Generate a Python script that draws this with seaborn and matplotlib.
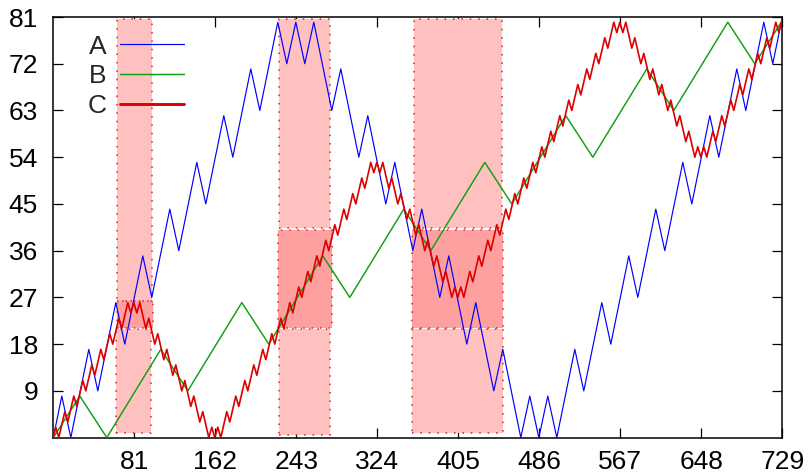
import matplotlib
matplotlib.use("Agg")
import matplotlib.pyplot as plt
import pandas as pd
import seaborn as sns
from matplotlib.patches import Rectangle
from matplotlib.lines import Line2D

# ---------------- data (turning points) ----------------
a_x = [0, 8.5, 17.5, 35.5, 44.5, 62.5, 71.5, 89.5, 98.5, 116.5, 125.5, 143.5, 152.5,
       170.5, 179.5, 197.5, 206.5, 224.5, 233.5, 242.5, 251.5, 260.5, 278.5, 287.5,
       305.5, 314.5, 332.5, 341.5, 359.5, 368.5, 386.5, 395.5, 413.5, 422.5, 440.5,
       449.5, 467.5, 476.5, 485.5, 494.5, 503.5, 521.5, 530.5, 548.5, 557.5, 575.5,
       584.5, 602.5, 611.5, 629.5, 638.5, 656.5, 665.5, 683.5, 692.5, 710.5, 719.5, 728]
a_y = [0, 8, 0, 17, 9, 26, 18, 35, 27, 44, 36, 53, 45, 62, 54, 71, 63, 80, 72, 80,
       72, 80, 63, 71, 54, 62, 45, 53, 36, 44, 27, 35, 18, 26, 9, 17, 0, 8, 0, 8, 0,
       17, 9, 26, 18, 35, 27, 44, 36, 53, 45, 62, 54, 71, 63, 80, 72, 80]

b_x = [0, 26.5, 53.5, 107.5, 134.5, 188.5, 215.5, 269.5, 296.5, 350.5, 377.5, 431.5,
       458.5, 512.5, 539.5, 593.5, 620.5, 674.5, 701.5, 728]
b_y = [0, 8, 0, 17, 9, 26, 18, 35, 27, 44, 36, 53, 45, 62, 54, 71, 63, 80, 72, 80]

c_x = [0,
       2.5, 5.5, 11.5, 14.5, 20.5, 23.5, 29.5, 32.5, 38.5, 41.5, 47.5, 50.5, 56.5, 59.5,
       65.5, 68.5, 74.5, 77.5,
       80.5,
       83.5, 86.5, 92.5, 95.5, 101.5, 104.5, 110.5, 113.5, 119.5, 122.5, 128.5, 131.5,
       137.5, 140.5, 146.5, 149.5, 155.5, 158.5,
       161.5,
       164.5, 167.5, 173.5, 176.5, 182.5, 185.5, 191.5, 194.5, 200.5, 203.5, 209.5, 212.5,
       218.5, 221.5, 227.5, 230.5, 236.5, 239.5, 245.5, 248.5, 254.5, 257.5, 263.5, 266.5,
       272.5, 275.5, 281.5, 284.5, 290.5, 293.5, 299.5, 302.5, 308.5, 311.5, 317.5, 320.5,
       323.5,
       326.5, 329.5, 335.5, 338.5, 344.5, 347.5, 353.5, 356.5, 362.5, 365.5, 371.5, 374.5,
       380.5, 383.5, 389.5, 392.5, 398.5, 401.5,
       404.5,
       407.5, 410.5, 416.5, 419.5, 425.5, 428.5, 434.5, 437.5, 443.5, 446.5, 452.5, 455.5,
       461.5, 464.5, 470.5, 473.5, 479.5, 482.5, 488.5, 491.5, 497.5, 500.5, 506.5, 509.5,
       515.5, 518.5, 524.5, 527.5, 533.5, 536.5, 542.5, 545.5, 551.5, 554.5, 560.5, 563.5,
       566.5,
       569.5, 572.5, 578.5, 581.5, 587.5, 590.5, 596.5, 599.5, 605.5, 608.5, 614.5, 617.5,
       623.5, 626.5, 632.5, 635.5, 641.5, 644.5,
       647.5,
       650.5, 653.5, 659.5, 662.5, 668.5, 671.5, 677.5, 680.5, 686.5, 689.5, 695.5, 698.5,
       704.5, 707.5, 713.5, 716.5, 722.5, 725.5,
       728]
c_y = [0,
       2, 0, 5, 3, 8, 6, 11, 9, 14, 12, 17, 15, 20, 18, 23, 21, 26, 24,
       26,
       24, 26, 21, 23, 18, 20, 15, 17, 12, 14, 9, 11, 6, 8, 3, 5, 0, 2,
       0,
       2, 0, 5, 3, 8, 6, 11, 9, 14, 12, 17, 15, 20, 18, 23, 21, 26, 24,
       29, 27, 32, 30, 35, 33, 38, 36, 41, 39, 44, 42, 47, 45, 50, 48, 53, 51,
       53,
       51, 53, 48, 50, 45, 47, 42, 44, 39, 41, 36, 38, 33, 35, 30, 32, 27, 29,
       27,
       29, 27, 32, 30, 35, 33, 38, 36, 41, 39, 44, 42, 47, 45, 50, 48, 53, 51,
       56, 54, 59, 57, 62, 60, 65, 63, 68, 66, 71, 69, 74, 72, 77, 75, 80, 78,
       80,
       78, 80, 75, 77, 72, 74, 69, 71, 66, 68, 63, 65, 60, 62, 57, 59, 54, 56,
       54,
       56, 54, 59, 57, 62, 60, 65, 63, 68, 66, 71, 69, 74, 72, 77, 75, 80, 78,
       80]

series_names = ["A", "B", "C"]
x_ticks = [81, 162, 243, 324, 405, 486, 567, 648, 729]
y_ticks = [9, 18, 27, 36, 45, 54, 63, 72, 81]

# shaded boxes: x0, x1, y0, y1, shade
box_x0 = [63.5, 63.3, 62.5, 226.0, 225.0, 226.0, 360.7, 359.0, 359.0]
box_x1 = [98.5, 99.4, 97.5, 276.7, 278.4, 277.0, 449.0, 450.0, 449.4]
box_y0 = [26.4, 21.2, 0.8, 40.3, 21.2, 0.5, 40.3, 21.2, 0.8]
box_y1 = [80.6, 26.3, 21.0, 80.6, 40.0, 21.0, 80.6, 40.0, 21.0]
box_dark = [False, True, False, False, True, False, False, True, False]

# ---------------- styling ----------------
sns.set_style("ticks")
plt.rcParams["font.family"] = ["Liberation Sans", "DejaVu Sans"]

W, H = 812, 473
fig = plt.figure(figsize=(W / 100, H / 100), dpi=100)
ax_left, ax_right, ax_top, ax_bottom = 53.3, 782.3, 17.0, 437.6
ax = fig.add_axes([ax_left / W, 1 - ax_bottom / H,
                   (ax_right - ax_left) / W, (ax_bottom - ax_top) / H])

for x0, x1, y0, y1, dark in zip(box_x0, box_x1, box_y0, box_y1, box_dark):
    ax.add_patch(Rectangle((x0, y0), x1 - x0, y1 - y0,
                           facecolor="#ffa0a0" if dark else "#ffc0c0",
                           edgecolor="none", zorder=1))
    ax.add_patch(Rectangle((x0, y0), x1 - x0, y1 - y0, facecolor="none",
                           edgecolor="#e02020", lw=1.1, linestyle=(0, (1, 4.5)),
                           zorder=1.5))

df = pd.concat([
    pd.DataFrame({"x": a_x, "y": a_y, "s": "A"}),
    pd.DataFrame({"x": b_x, "y": b_y, "s": "B"}),
    pd.DataFrame({"x": c_x, "y": c_y, "s": "C"}),
], ignore_index=True)

colors = {"A": "#0000ff", "B": "#119f11", "C": "#dd0000"}
widths = {"A": 0.85, "B": 1.05, "C": 1.2}
legend_widths = {"A": 0.85, "B": 1.05, "C": 2.1}
for name in series_names:
    sub = df[df["s"] == name]
    sns.lineplot(data=sub, x="x", y="y", sort=False, estimator=None,
                 color=colors[name], lw=widths[name], ax=ax, zorder=3)

ax.set_xlim(0, 729)
ax.set_ylim(0, 81)
ax.set_xticks(x_ticks)
ax.set_yticks(y_ticks)
ax.set_xlabel("")
ax.set_ylabel("")
for sp in ax.spines.values():
    sp.set_visible(True)
    sp.set_linewidth(1.1)
    sp.set_color("black")
ax.tick_params(axis="both", direction="in", length=7, width=0.9, top=True,
               right=True, labelsize=19, colors="black")
ax.tick_params(axis="x", pad=9)
ax.tick_params(axis="y", pad=11)

handles = [Line2D([], [], color=colors[n], lw=legend_widths[n]) for n in series_names]
leg = ax.legend(handles, series_names, loc="upper left", bbox_to_anchor=(0.047, 0.958),
                frameon=False, fontsize=19, markerfirst=False, handlelength=2.45,
                handletextpad=0.5, labelspacing=0.22, borderpad=0, borderaxespad=0)
leg.set_zorder(5)

fig.savefig("out.png", dpi=100)
